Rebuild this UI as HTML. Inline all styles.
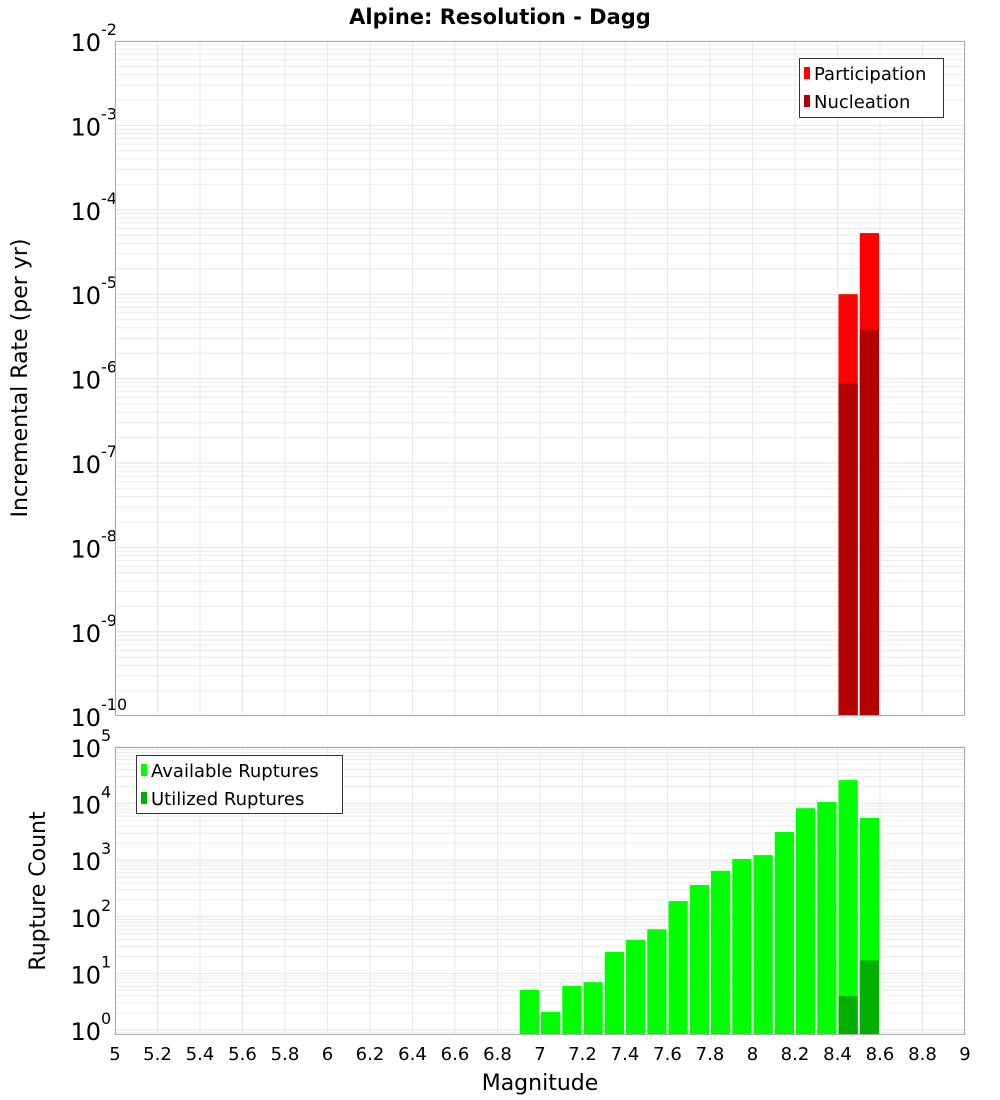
<!DOCTYPE html>
<html><head><meta charset="utf-8"><style>
body{margin:0;background:#fff;}
svg{display:block;font-family:"DejaVu Sans","Liberation Sans",sans-serif;}
</style></head><body>
<svg id="chart" width="1000" height="1100" xmlns="http://www.w3.org/2000/svg">
<text x="500" y="24" text-anchor="middle" font-size="21" font-weight="bold">Alpine: Resolution - Dagg</text>
<g id="topPanel"></g>
<g id="botPanel"></g>
<text transform="translate(27,378) rotate(-90)" text-anchor="middle" font-size="22">Incremental Rate (per yr)</text>
<text transform="translate(45,891) rotate(-90)" text-anchor="middle" font-size="22">Rupture Count</text>
<text x="540" y="1090" text-anchor="middle" font-size="22">Magnitude</text>
</svg>
<script>
const xTicks=["5","5.2","5.4","5.6","5.8","6","6.2","6.4","6.6","6.8","7","7.2","7.4","7.6","7.8","8","8.2","8.4","8.6","8.8","9"];
const rateMags=[8.45,8.55];
const participation=[1.0e-5,5.3e-5];
const nucleation=[8.7e-7,3.8e-6];
const countMags=[6.95,7.05,7.15,7.25,7.35,7.45,7.55,7.65,7.75,7.85,7.95,8.05,8.15,8.25,8.35,8.45,8.55];
const available=[5.1,2.1,6,7,24,39,60,190,365,650,1050,1230,3150,8300,10700,26000,5600];
const utilizedMags=[8.45,8.55];
const utilized=[4,17];

const NS="http://www.w3.org/2000/svg";
const PL=115,PR=965;
const xs=m=>PL+(m-5)/4*(PR-PL);
function mk(p,t,a){const e=document.createElementNS(NS,t);for(const k in a)e.setAttribute(k,a[k]);p.appendChild(e);return e;}
function panel(g,y0,y1,eMax,eMin,decPx,name){
  const ys=v=>y0+(eMax-Math.log10(v))*decPx;
  mk(g,'rect',{x:PL,y:y0,width:PR-PL,height:y1-y0,fill:'#fff'});
  for(let e=Math.floor(eMin)-1;e<=eMax;e++){for(let k=1;k<10;k++){const y=ys(k*Math.pow(10,e));if(y<y0||y>y1)continue;
    const ln=mk(g,'line',{x1:PL,x2:PR,y1:y,y2:y,stroke:k==1?'#e4e4e4':'#ececec','stroke-width':1});
    
    }}
  xTicks.forEach(t=>{const x=xs(+t);const ln=mk(g,'line',{x1:x,x2:x,y1:y0,y2:y1,stroke:'#e8e8e8'});
    
    });
  for(let e=Math.ceil(eMin);e<=eMax;e++){const y=ys(Math.pow(10,e));
    const t=mk(g,'text',{x:101,y:y+10,'text-anchor':'end','font-size':24});t.textContent='10';
    
    
    const s=mk(g,'text',{x:101,y:y-6,'font-size':16});s.textContent=String(e);
    
    }
  return ys;
}
const topG=document.getElementById('topPanel'),botG=document.getElementById('botPanel');
const yT=panel(topG,41,716,-2,-10,84.4,'rate');
const yB=panel(botG,747,1035,5,-0.09,56.6,'count');
const bw=(PR-PL)/40;
function bar(g,m,v,ys,base,fill,name){const x=xs(m)-bw/2+1;const y=ys(v);
  const r=mk(g,'rect',{x:x,y:y,width:bw-2,height:base-y,fill:fill});
  
  }
rateMags.forEach((m,i)=>bar(topG,m,participation[i],yT,716,'#ff0000','participation-bar'));
rateMags.forEach((m,i)=>bar(topG,m,nucleation[i],yT,716,'#b30000','nucleation-bar'));
countMags.forEach((m,i)=>bar(botG,m,available[i],yB,1035,'#00ff00','available-bar'));
utilizedMags.forEach((m,i)=>bar(botG,m,utilized[i],yB,1035,'#00b000','utilized-bar'));
mk(topG,'rect',{x:PL+.5,y:41.5,width:PR-PL-1,height:674,fill:'none',stroke:'#aaa'});
mk(botG,'rect',{x:PL+.5,y:747.5,width:PR-PL-1,height:287,fill:'none',stroke:'#aaa'});
xTicks.forEach(t=>{const e=mk(botG,'text',{x:xs(+t),y:1060,'text-anchor':'middle','font-size':18});e.textContent=t;
  
  });
function legend(g,x,y,w,h,items,name){const lg=mk(g,'g',{});
  
  
  mk(lg,'rect',{x:x+.5,y:y+.5,width:w,height:h,fill:'#fff',stroke:'#333'});
  items.forEach((it,i)=>{const cy=y+15+i*28;mk(lg,'rect',{x:x+5,y:cy-6,width:6,height:12,fill:it[1]});
    const t=mk(lg,'text',{x:x+15,y:cy+7,'font-size':18});t.textContent=it[0];
    
    });}
legend(topG,799,58,144,59,[['Participation','#ff0000'],['Nucleation','#b30000']],'rate-legend');
legend(botG,136,755,206,58,[['Available Ruptures','#00ff00'],['Utilized Ruptures','#00b000']],'count-legend');
</script>
</body></html>
